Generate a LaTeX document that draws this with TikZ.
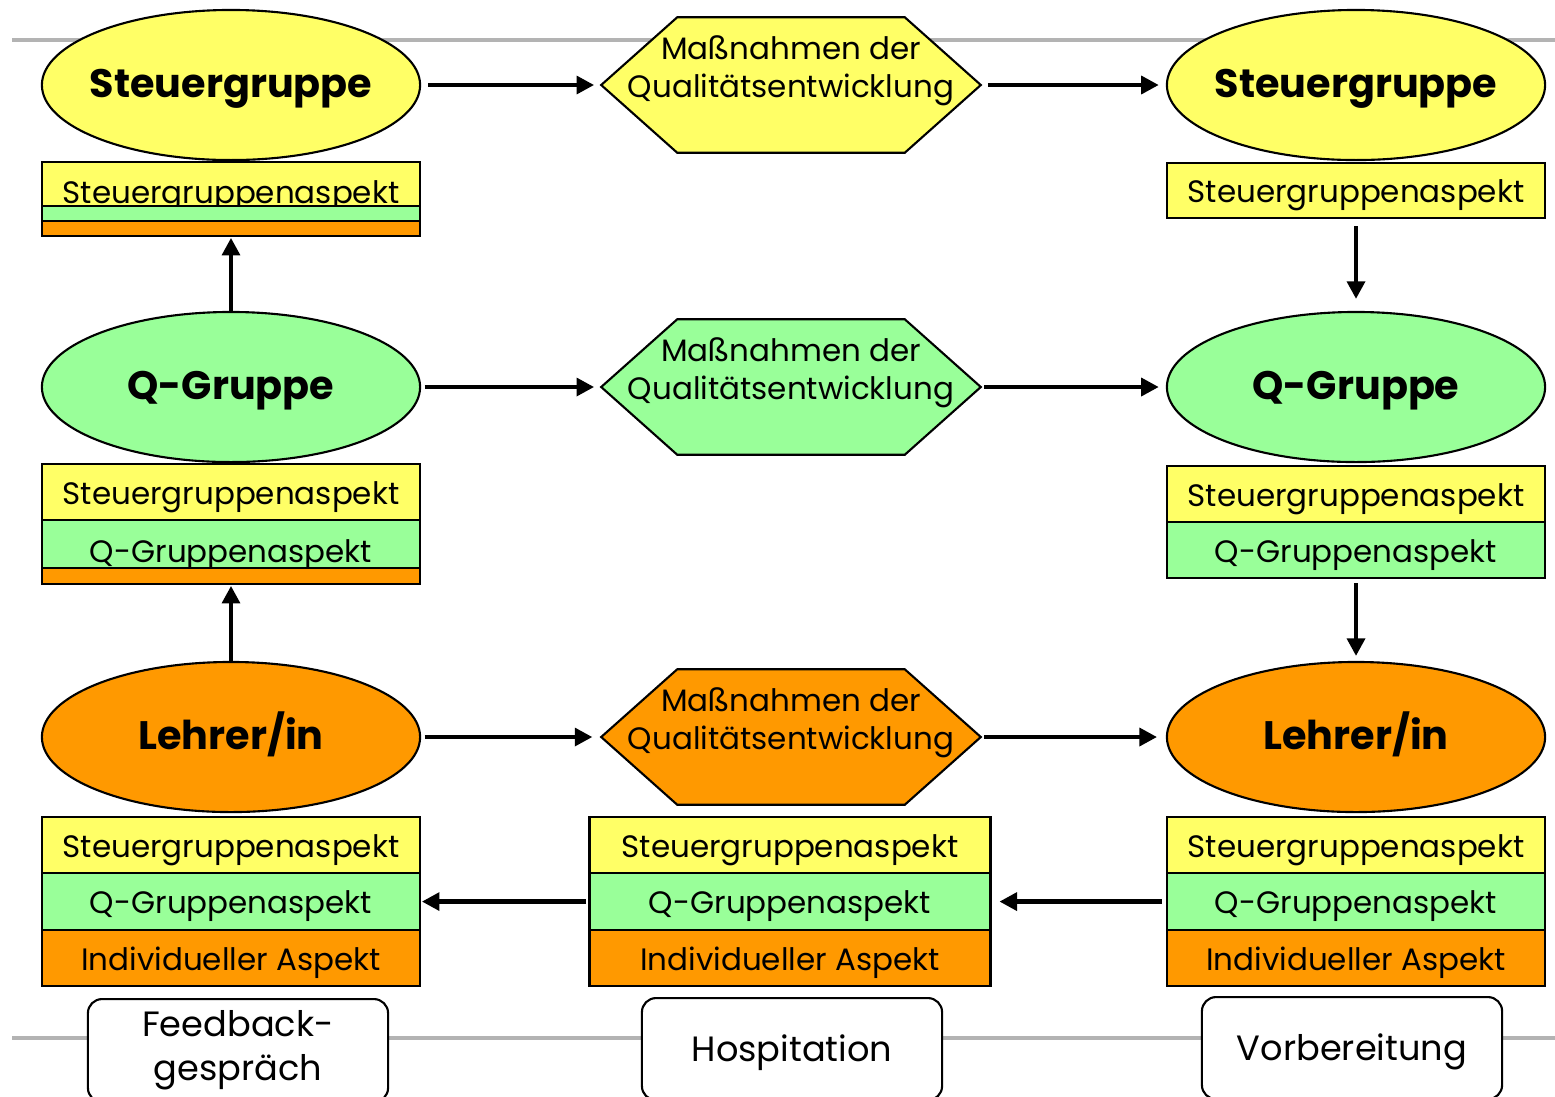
\documentclass[tikz,border=0pt]{standalone}
\usepackage{fontspec}
\setmainfont{Poppins}
\usetikzlibrary{shapes.geometric,arrows.meta,positioning}

\definecolor{sgyellow}{HTML}{FFFF66}
\definecolor{qggreen}{HTML}{99FF99}
\definecolor{liorange}{HTML}{FF9900}
\definecolor{rulegray}{HTML}{B3B3B3}

\tikzset{
  group/.style={ellipse, draw, line width=0.6pt, minimum width=3.78cm, minimum height=1.5cm,
    inner xsep=-0.6cm, inner ysep=0pt, text height=0.72em, text depth=0pt,
    font=\fontsize{11.3}{13}\selectfont\bfseries},
  aspect/.style={draw, line width=0.7pt, minimum width=3.78cm, inner sep=0pt, outer sep=0pt,
    text height=0.7em, text depth=0pt, font=\fontsize{8.8}{10.8}\selectfont},
  band/.style={draw, line width=0.7pt, minimum width=3.78cm, inner sep=0pt, outer sep=0pt,
    text height=0pt, text depth=0pt},
  hexbox/.style={minimum width=3.78cm, minimum height=1.34cm, inner sep=0pt},
  hexline/.style={draw, line width=0.6pt},
  hextext/.style={align=center, font=\fontsize{8.8}{10.8}\selectfont},
  flow/.style={-{Triangle[length=5pt,width=5pt]}, line width=1.4pt},
  stage/.style={draw, rounded corners=4pt, line width=0.6pt, fill=white, minimum width=3cm,
    minimum height=1.02cm, align=center, font=\fontsize{10}{12.5}\selectfont}
}

\begin{document}
\begin{tikzpicture}[x=0.01cm, y=-0.01cm]
  \useasboundingbox (0,0) rectangle (1555,1096);
  \clip (0,0) rectangle (1555,1096);

  % Trennlinien
  \draw[rulegray, line width=0.9pt] (12,40) -- (1555,40);
  \draw[rulegray, line width=0.9pt] (12,1038) -- (1555,1038);

  % === linke Spalte ===
  \node[group, fill=sgyellow] (sg1) at (231,85) {Steuergruppe};
  \node[group, fill=qggreen] (qg1) at (231,387) {Q-Gruppe};
  \node[group, fill=liorange] (li1) at (231,737) {Lehrer/in};

  \node[aspect, fill=sgyellow, minimum height=0.44cm, text height=1.08em, anchor=north] (a1y) at (231,162) {Steuergruppenaspekt};
  \node[band, fill=qggreen, minimum height=0.15cm, below=0pt of a1y] (a1g) {};
  \node[band, fill=liorange, minimum height=0.15cm, below=0pt of a1g] (a1o) {};

  \node[aspect, fill=sgyellow, minimum height=0.56cm, anchor=north] (a2y) at (231,464) {Steuergruppenaspekt};
  \node[aspect, fill=qggreen, minimum height=0.48cm, text height=1.05em, below=0pt of a2y] (a2g) {Q-Gruppenaspekt};
  \node[band, fill=liorange, minimum height=0.16cm, below=0pt of a2g] (a2o) {};

  \node[aspect, fill=sgyellow, minimum height=0.56cm, anchor=north] (a3y) at (231,817) {Steuergruppenaspekt};
  \node[aspect, fill=qggreen, minimum height=0.57cm, below=0pt of a3y] (a3g) {Q-Gruppenaspekt};
  \node[aspect, fill=liorange, minimum height=0.56cm, below=0pt of a3g] (a3o) {Individueller Aspekt};

  % === Mitte: Massnahmen ===
  \node[hexbox] (m1) at (791,85) {};
  \draw[hexline, fill=sgyellow] (m1.west) -- ([xshift=0.76cm]m1.north west) -- ([xshift=-0.76cm]m1.north east)
    -- (m1.east) -- ([xshift=-0.76cm]m1.south east) -- ([xshift=0.76cm]m1.south west) -- cycle;
  \node[hextext] (m1t) at ([yshift=0.14cm]m1.center) {Maßnahmen der\\Qualitätsentwicklung};

  \node[hexbox] (m2) at (791,387) {};
  \draw[hexline, fill=qggreen] (m2.west) -- ([xshift=0.76cm]m2.north west) -- ([xshift=-0.76cm]m2.north east)
    -- (m2.east) -- ([xshift=-0.76cm]m2.south east) -- ([xshift=0.76cm]m2.south west) -- cycle;
  \node[hextext] (m2t) at ([yshift=0.14cm]m2.center) {Maßnahmen der\\Qualitätsentwicklung};

  \node[hexbox] (m3) at (791,737) {};
  \draw[hexline, fill=liorange] (m3.west) -- ([xshift=0.76cm]m3.north west) -- ([xshift=-0.76cm]m3.north east)
    -- (m3.east) -- ([xshift=-0.76cm]m3.south east) -- ([xshift=0.76cm]m3.south west) -- cycle;
  \node[hextext] (m3t) at ([yshift=0.14cm]m3.center) {Maßnahmen der\\Qualitätsentwicklung};

  \node[aspect, fill=sgyellow, minimum width=4.01cm, minimum height=0.56cm, anchor=north] (b2y) at (790,817) {Steuergruppenaspekt};
  \node[aspect, fill=qggreen, minimum width=4.01cm, minimum height=0.57cm, below=0pt of b2y] (b2g) {Q-Gruppenaspekt};
  \node[aspect, fill=liorange, minimum width=4.01cm, minimum height=0.56cm, below=0pt of b2g] (b2o) {Individueller Aspekt};

  % === rechte Spalte ===
  \node[group, fill=sgyellow] (sg2) at (1356,85) {Steuergruppe};
  \node[group, fill=qggreen] (qg2) at (1356,387) {Q-Gruppe};
  \node[group, fill=liorange] (li2) at (1356,737) {Lehrer/in};

  \node[aspect, fill=sgyellow, minimum height=0.55cm, anchor=north] (r1y) at (1356,163) {Steuergruppenaspekt};

  \node[aspect, fill=sgyellow, minimum height=0.56cm, anchor=north] (r2y) at (1356,466) {Steuergruppenaspekt};
  \node[aspect, fill=qggreen, minimum height=0.56cm, below=0pt of r2y] (r2g) {Q-Gruppenaspekt};

  \node[aspect, fill=sgyellow, minimum height=0.56cm, anchor=north] (r3y) at (1356,817) {Steuergruppenaspekt};
  \node[aspect, fill=qggreen, minimum height=0.57cm, below=0pt of r3y] (r3g) {Q-Gruppenaspekt};
  \node[aspect, fill=liorange, minimum height=0.56cm, below=0pt of r3g] (r3o) {Individueller Aspekt};

  % Pfeile
  \draw[flow, shorten <=2pt, shorten >=2pt] (sg1) -- (m1);
  \draw[flow, shorten <=2pt, shorten >=2pt] (m1) -- (sg2);
  \draw[flow, shorten <=1pt, shorten >=2pt] (qg1) -- (m2);
  \draw[flow, shorten <=1pt, shorten >=2pt] (m2) -- (qg2);
  \draw[flow, shorten <=1pt, shorten >=2.5pt] (li1) -- (m3);
  \draw[flow, shorten <=1pt, shorten >=2.5pt] (m3) -- (li2);

  \draw[flow, shorten >=0.5pt] (qg1) -- (a1o);
  \draw[flow, shorten >=0.5pt] (li1) -- (a2o);
  \draw[flow, shorten <=2.3pt, shorten >=3.4pt] (r1y) -- (qg2);
  \draw[flow, shorten <=1.4pt, shorten >=1.4pt] (r2g) -- (li2);

  \draw[flow, shorten <=1pt, shorten >=0.5pt] (b2g) -- (a3g);
  \draw[flow, shorten <=1.4pt, shorten >=2.5pt] (r3g) -- (b2g);

  % Phasen
  \node[stage, anchor=north] (fb) at (238,998) {Feedback-\\gespräch};
  \node[stage, anchor=north, text height=0.72em, text depth=0pt] (ho) at (792,997) {Hospitation};
  \node[stage, anchor=north, text height=0.72em, text depth=0pt] (vb) at (1352,996) {Vorbereitung};
\end{tikzpicture}
\end{document}
